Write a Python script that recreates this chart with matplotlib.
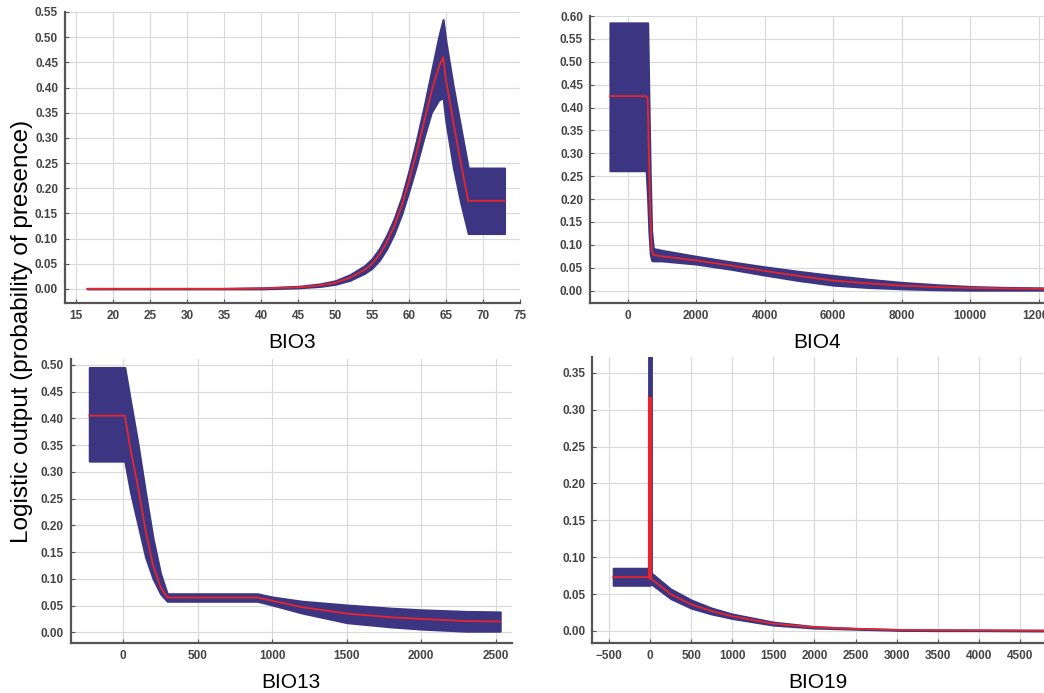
import matplotlib
matplotlib.use('Agg')
import matplotlib.pyplot as plt

plt.rcParams['font.family'] = ['Liberation Sans', 'DejaVu Sans']

BAND = '#3c3582'
MEAN = '#e8262a'

# BIO3 response curve
x3 = [16.5, 30, 35, 40, 45, 48, 50, 52, 54, 55, 56, 57, 58, 59, 60, 61, 62, 63, 64, 64.6, 65, 66, 67, 68, 70, 72.9]
m3 = [0, 0, 0, 0.001, 0.003, 0.007, 0.012, 0.022, 0.038, 0.05, 0.068, 0.093, 0.125, 0.165, 0.215, 0.27, 0.33, 0.39, 0.44, 0.46, 0.415, 0.33, 0.25, 0.175, 0.175, 0.175]
u3 = [0.001, 0.001, 0.001, 0.002, 0.005, 0.01, 0.016, 0.028, 0.046, 0.06, 0.08, 0.107, 0.14, 0.182, 0.235, 0.295, 0.36, 0.43, 0.50, 0.535, 0.49, 0.40, 0.32, 0.24, 0.24, 0.24]
l3 = [0, 0, 0, 0, 0.002, 0.005, 0.009, 0.017, 0.031, 0.041, 0.057, 0.08, 0.11, 0.148, 0.195, 0.245, 0.30, 0.35, 0.375, 0.38, 0.33, 0.24, 0.17, 0.11, 0.11, 0.11]

# BIO4
x4 = [-517, 540, 584, 620, 660, 700, 750, 1000, 2000, 3000, 4000, 5000, 6000, 7000, 8000, 9000, 10000, 11000, 12150]
m4 = [0.425, 0.425, 0.42, 0.30, 0.17, 0.09, 0.078, 0.075, 0.066, 0.055, 0.043, 0.032, 0.022, 0.016, 0.011, 0.008, 0.006, 0.005, 0.004]
u4 = [0.585, 0.585, 0.585, 0.42, 0.25, 0.13, 0.092, 0.088, 0.075, 0.063, 0.052, 0.042, 0.033, 0.025, 0.018, 0.013, 0.009, 0.007, 0.006]
l4 = [0.262, 0.262, 0.20, 0.13, 0.08, 0.066, 0.065, 0.065, 0.058, 0.047, 0.034, 0.022, 0.012, 0.007, 0.004, 0.002, 0.001, 0.001, 0.001]

# BIO13
x13 = [-228, 10, 50, 100, 150, 200, 250, 295, 900, 1000, 1200, 1500, 1800, 2000, 2300, 2530]
m13 = [0.405, 0.405, 0.34, 0.27, 0.19, 0.125, 0.085, 0.065, 0.065, 0.059, 0.047, 0.035, 0.028, 0.025, 0.021, 0.02]
u13 = [0.495, 0.495, 0.43, 0.35, 0.26, 0.175, 0.11, 0.072, 0.072, 0.066, 0.058, 0.051, 0.045, 0.042, 0.039, 0.038]
l13 = [0.32, 0.32, 0.26, 0.20, 0.14, 0.10, 0.072, 0.058, 0.058, 0.051, 0.036, 0.018, 0.01, 0.006, 0.002, 0.002]

# BIO19
x19 = [-448, 0, 0.1, 250, 500, 750, 1000, 1500, 2000, 2500, 3000, 3500, 4000, 4800]
m19 = [0.073, 0.073, 0.072, 0.05, 0.036, 0.027, 0.02, 0.01, 0.005, 0.003, 0.0015, 0.001, 0.001, 0.0005]
u19 = [0.085, 0.085, 0.08, 0.057, 0.042, 0.031, 0.023, 0.012, 0.006, 0.0035, 0.002, 0.0015, 0.0012, 0.001]
l19 = [0.062, 0.062, 0.065, 0.044, 0.031, 0.023, 0.017, 0.008, 0.004, 0.0025, 0.001, 0.0005, 0.0005, 0.0]
spike19_band = 0.37
spike19_mean = 0.315

panels = [
    ('BIO3', x3, m3, u3, l3, [0.0623, 0.5628, 0.4358, 0.4199], (13.5, 74.7), (-0.028, 0.55),
     list(range(15, 80, 5)), [i * 0.05 for i in range(12)]),
    ('BIO4', x4, m4, u4, l4, [0.5651, 0.5628, 0.4349, 0.4141], (-1100, 12155), (-0.027, 0.60),
     list(range(0, 14000, 2000)), [i * 0.05 for i in range(13)]),
    ('BIO13', x13, m13, u13, l13, [0.0677, 0.0722, 0.4224, 0.4098], (-353, 2607), (-0.02, 0.511),
     list(range(0, 3000, 500)), [i * 0.05 for i in range(11)]),
    ('BIO19', x19, m19, u19, l19, [0.5673, 0.0717, 0.4327, 0.4127], (-703, 4792), (-0.0167, 0.371),
     list(range(-500, 5000, 500)), [i * 0.05 for i in range(8)]),
]

fig = plt.figure(figsize=(10.44, 6.93), dpi=100)

for name, x, m, u, l, pos, xl, yl, xt, yt in panels:
    ax = fig.add_axes(pos)
    ax.fill_between(x, l, u, color=BAND, lw=1.5, edgecolor=BAND, zorder=2)
    if name == 'BIO19':
        ax.plot([0, 0], [m[1], spike19_band], color=BAND, lw=3.5, zorder=2)
        ax.plot([0, 0], [m[1], spike19_mean], color=MEAN, lw=3, zorder=3)
    ax.plot(x, m, color=MEAN, lw=1.3, zorder=3)
    ax.set_xlim(*xl)
    ax.set_ylim(*yl)
    ax.set_xticks(xt)
    ax.set_yticks(yt)
    ax.set_yticklabels(['%.2f' % v for v in yt])
    ax.grid(True, color='#d9d9d9', lw=0.8, zorder=0)
    ax.set_axisbelow(True)
    for s in ['top', 'right']:
        ax.spines[s].set_visible(False)
    for s in ['left', 'bottom']:
        ax.spines[s].set_color('#555555')
        ax.spines[s].set_linewidth(1.6)
    ax.tick_params(direction='in', length=3, color='#555555', labelsize=8.5,
                   labelcolor='#444444', pad=5)
    for lab in ax.get_xticklabels() + ax.get_yticklabels():
        lab.set_fontweight('bold')
    ax.set_xlabel(name, fontsize=15, labelpad=8)

fig.text(0.021, 0.522, 'Logistic output (probability of presence)', rotation=90,
         fontsize=17.5, ha='center', va='center')

fig.savefig('out.png', dpi=100)
